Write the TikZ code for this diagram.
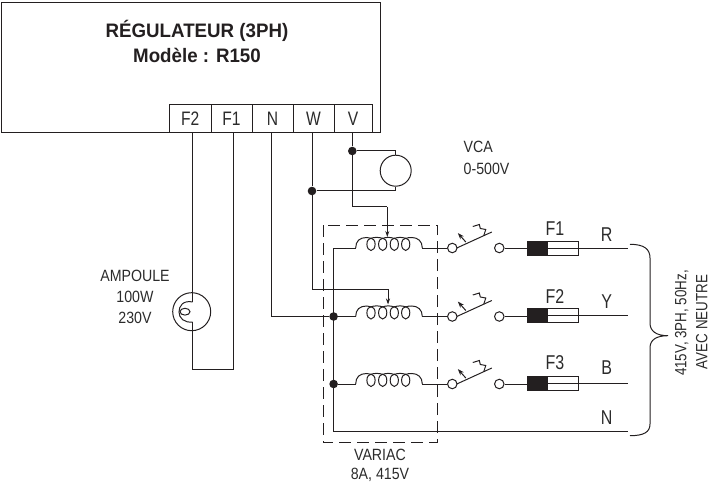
\documentclass[tikz,border=0pt]{standalone}
\usepackage{fontspec}
\setmainfont{Liberation Sans}
\newfontfamily\lab[FakeStretch=0.87]{Liberation Sans}
\newfontfamily\labr[FakeStretch=0.82]{Liberation Sans}
\newfontfamily\labn[FakeStretch=0.8]{Liberation Sans}
\newfontfamily\titrefont[FakeStretch=0.96]{Liberation Sans Bold}
\usetikzlibrary{arrows.meta,calc}
\definecolor{ink}{HTML}{231F20}
\definecolor{txt}{HTML}{2B2B2B}
\tikzset{
  wire/.style={draw=ink,line width=1pt},
  tap/.style={wire,-{Stealth[length=6pt,width=4pt]}},
  thin wire/.style={draw=ink,line width=1pt},
  dot/.style={circle,fill=ink,inner sep=0pt,minimum size=8.6pt},
  term/.style={draw=ink,line width=1pt,minimum height=28.5pt,inner sep=0pt,font=\labn\fontsize{19.5}{19.5}\selectfont,text=txt},
  lbl/.style={font=\lab\fontsize{16.3}{21.3}\selectfont,text=txt,inner sep=0pt,align=center},
  lblr/.style={font=\labr\fontsize{16.3}{20}\selectfont,text=txt,inner sep=0pt},
  fuselbl/.style={font=\labn\fontsize{20}{20}\selectfont,text=txt,inner sep=0pt},
  titre/.style={font=\titrefont\fontsize{19.5}{19.5}\selectfont,text=ink,inner sep=0pt},
  contact/.style={circle,draw=ink,line width=1pt,fill=white,inner sep=0pt,minimum size=9.5pt},
  pics/coil/.style={code={
    \draw[thin wire] (0,0) .. controls (0,-7) and (4,-10.5) .. (11,-10.5)
       .. controls (13,-10.5) and (15,-9.5) .. (15,-9.5)
       .. controls (18,-11) and (24,-11) .. (27,-9.5)
       .. controls (30,-11) and (35,-11) .. (38.5,-9.5)
       .. controls (42,-11) and (47,-11) .. (50,-9.5)
       .. controls (52,-10.5) and (54,-10.5) .. (56,-10.5)
       .. controls (62,-10.5) and (66.6,-7) .. (66.6,0);
    \foreach \c in {15.3,27,38.6,50}
      \draw[thin wire] (\c,-3.7) ellipse (4.1 and 6.2);
  }},
  pics/blade/.style={code={
    \draw[thin wire] (4.5,0) -- (39.5,-16);
    \draw[thin wire,-{Stealth[length=6.5pt,width=4.6pt]}] (13.5,-6) -- (5.5,-15);
    \draw[thin wire] (31.5,-12.5) -- (33.5,-18.5) -- (28,-19.5) -- (27,-23.5) -- (20.5,-21.5);
  }}
}
\begin{document}
\begin{tikzpicture}[x=1pt,y=-1pt]
\useasboundingbox (0,0) rectangle (710,484);

% regulator
\coordinate (boxTL) at (1,3);
\coordinate (boxBR) at (380,133);
\draw[wire] (boxTL) rectangle (boxBR);
\node[titre] (t1) at (197,30.5) {RÉGULATEUR (3PH)};
\node[titre] (t2) at (197,55) {Modèle : R150};

% terminals
\node[term,minimum width=41.5pt] (tF2) at (190.25,118.75) {F2};
\node[term,minimum width=41pt] (tF1) at (231.5,118.75) {F1};
\node[term,minimum width=41pt] (tN) at (272.5,118.75) {N};
\node[term,minimum width=41pt] (tW) at (313.5,118.75) {W};
\node[term,minimum width=38pt] (tV) at (353,118.75) {V};

% lamp
\node[circle,draw=ink,line width=1pt,inner sep=0pt,minimum size=38pt] (lamp) at (191.7,311.7) {};
\coordinate (lampA) at (192.7,302);
\coordinate (lampB) at (192.7,322);
\coordinate (loopL) at (192.7,369);
\coordinate (loopR) at (233,369);
\draw[wire] ([xshift=2.45pt]tF2.south) -- (lampA);
\draw[wire] (lampB) -- (loopL) -- (loopR) -- ([xshift=1.5pt]tF1.south);
\draw[thin wire] (lampA) .. controls (183,300) and (179,306) .. (179,312) .. controls (179,318) and (184,323) .. (lampB);
\draw[thin wire] (185,311.7) ellipse (5 and 3.4);
\node[lbl] (lampt) at (135,297) {AMPOULE\\100W\\230V};

% voltmeter
\node[circle,draw=ink,line width=1pt,inner sep=0pt,minimum size=31pt] (vca) at (395.7,170.7) {};
\node[dot] (jV) at (352.3,151) {};
\node[dot] (jW) at (312,191) {};
\draw[wire] ([xshift=-0.7pt]tV.south) -- (jV);
\draw[wire] (jV) -| (vca.north);
\draw[wire] ([xshift=-1.5pt]tW.south) -- (jW);
\draw[wire] (jW) -| (vca.south);
\node[lbl,anchor=west] (vcat) at (463.5,147) {VCA};
\node[lbl,anchor=west] (vcar) at (463.5,169) {0-500V};

% variac box
\draw[ink,line width=1pt,dash pattern=on 12pt off 6pt] (323,225) rectangle (437.7,442.7);
\node[lbl,font=\lab\fontsize{16.3}{19.5}\selectfont] (vart) at (380,465.5) {VARIAC\\8A, 415V};

% branches
\foreach \n/\y/\fy/\flab/\fly/\plab/\ply in {1/248/248.3/F1/229/R/235,2/316.5/315.7/F2/296.7/Y/301.7,3/384/383.7/F3/363/B/367.7}{
  \coordinate (cL\n) at (355.7,\y);
  \coordinate (cR\n) at (422.3,\y);
  \pic at (cL\n) {coil};
  \node[contact] (sA\n) at (452.3,\y) {};
  \node[contact] (sB\n) at (499.3,\y) {};
  \pic at (sA\n) {blade};
  \draw[wire] (cR\n) -- (sA\n);
  \node[draw=ink,line width=1pt,minimum width=31pt,minimum height=14pt,inner sep=0pt,fill=white] (fW\n) at (563.2,\fy) {};
  \node[fill=ink,draw=ink,line width=1pt,minimum width=20pt,minimum height=14pt,inner sep=0pt] (fB\n) at (537.7,\fy) {};
  \coordinate (end\n) at (628.3,\fy);
  \draw[thin wire] (sB\n.east) -- (fB\n.west |- sB\n.east);
  \draw[thin wire] (fB\n.east) -- (end\n);
  \node[fuselbl] (fl\n) at (555,\fly) {\flab};
  \node[fuselbl] (pl\n) at (606.7,\ply) {\plab};
}
\node[dot] (j2) at (333.6,316.5) {};
\node[dot] (j3) at (333.6,384) {};
\coordinate (neutL) at (333.6,431.7);
\coordinate (neutR) at (628.3,431.7);
\node[fuselbl] (plN) at (606.7,418) {N};
\draw[wire] (cL1) -- (cL1 -| j2) -- (neutL) -- (neutR);
\draw[wire] (j2) -- (cL2);
\draw[wire] (j3) -- (cL3);

% N and tap wires
\draw[wire] ([xshift=-0.8pt]tN.south) |- (j2);
\coordinate (vBend) at (387.3,207);
\coordinate (wBend) at (388,289);
\coordinate (tap1) at (387.3,237);
\coordinate (tap2) at (388,304.5);
\draw[wire] (jV) |- (vBend);
\draw[tap] (vBend) -- (tap1);
\draw[wire] (jW) |- (wBend);
\draw[tap] (wBend) -- (tap2);

% brace
\draw[thin wire] (630,244.3) .. controls (644,244.3) and (650,249) .. (650,258) -- (650,323)
  .. controls (650,331) and (656,335.7) .. (668,335.7)
  .. controls (656,335.7) and (650,340) .. (650,348) -- (650,424)
  .. controls (650,432) and (644,435.7) .. (630,435.7);
\node[lblr,rotate=90] (sup1) at (681.7,323) {415V, 3PH, 50Hz,};
\node[lblr,rotate=90] (sup2) at (701.7,322) {AVEC NEUTRE};
\end{tikzpicture}
\end{document}
